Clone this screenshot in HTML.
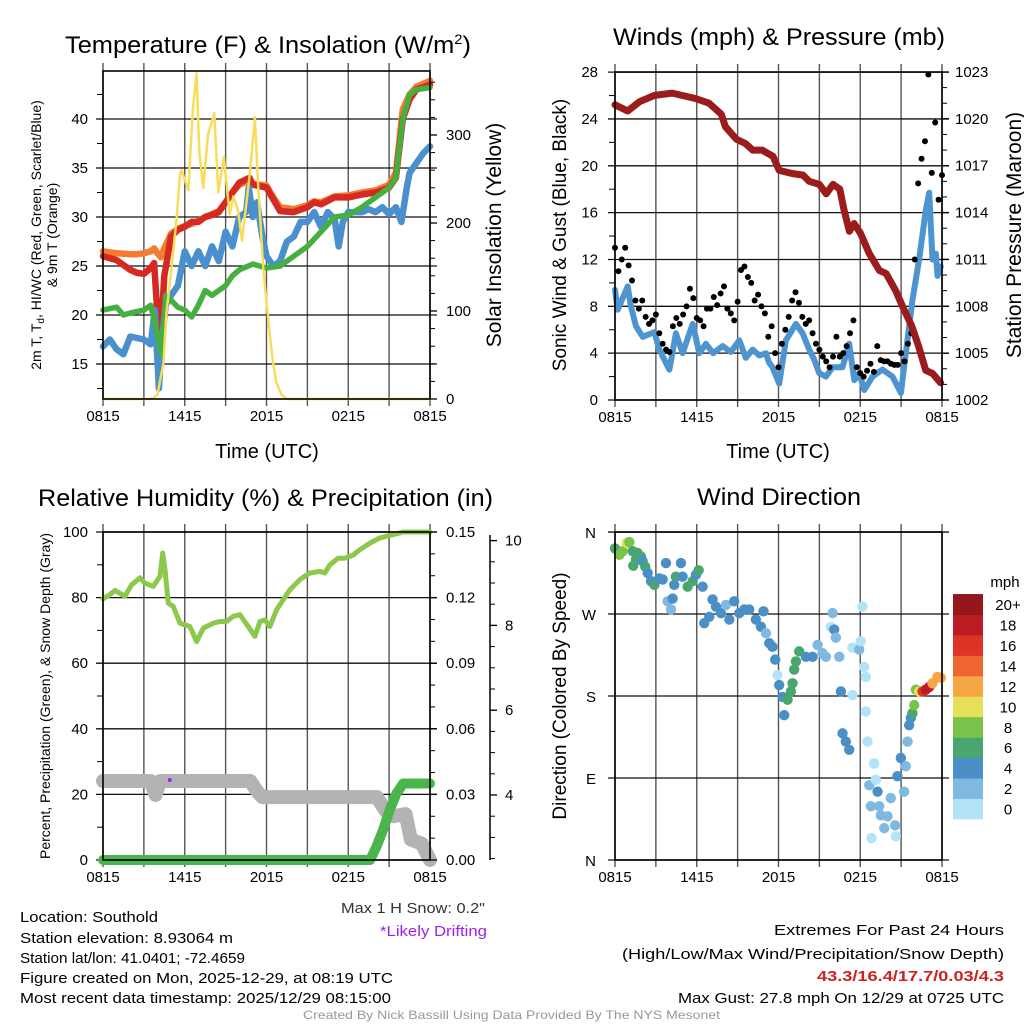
<!DOCTYPE html>
<html><head><meta charset="utf-8"><style>
html,body{margin:0;padding:0;background:#fff;}
svg{display:block;font-family:"Liberation Sans",sans-serif;}
</style></head><body>
<svg id="fig" width="1024" height="1024" viewBox="0 0 1024 1024" xmlns="http://www.w3.org/2000/svg">
<g id="gridlayer"></g>
<g id="datalayer"></g>
<g id="axislayer"></g>
<g fill="#000">
<text x="65" y="53" font-size="24" textLength="406" lengthAdjust="spacingAndGlyphs">Temperature (F) &amp; Insolation (W/m<tspan dy="-9" font-size="14">2</tspan><tspan dy="9">)</tspan></text>
<text x="613" y="45" font-size="24" textLength="332" lengthAdjust="spacingAndGlyphs">Winds (mph) &amp; Pressure (mb)</text>
<text x="38" y="506" font-size="24" textLength="455" lengthAdjust="spacingAndGlyphs">Relative Humidity (%) &amp; Precipitation (in)</text>
<text x="697" y="505" font-size="24" textLength="164" lengthAdjust="spacingAndGlyphs">Wind Direction</text>
<text x="267" y="458" font-size="20" text-anchor="middle">Time (UTC)</text>
<text x="778" y="458" font-size="20" text-anchor="middle">Time (UTC)</text>
<text transform="translate(41,235) rotate(-90)" font-size="14" text-anchor="middle">2m T, T<tspan font-size="10" dy="3">d</tspan><tspan dy="-3">, HI/WC (Red, Green, Scarlet/Blue)</tspan></text>
<text transform="translate(57,235) rotate(-90)" font-size="14" text-anchor="middle">&amp; 9m T (Orange)</text>
<text transform="translate(501,235) rotate(-90)" font-size="21" text-anchor="middle">Solar Insolation (Yellow)</text>
<text transform="translate(566,235) rotate(-90)" font-size="19" text-anchor="middle">Sonic Wind &amp; Gust (Blue, Black)</text>
<text transform="translate(1021,235) rotate(-90)" font-size="21" text-anchor="middle">Station Pressure (Maroon)</text>
<text transform="translate(50,696) rotate(-90)" font-size="14" text-anchor="middle">Percent, Precipitation (Green), &amp; Snow Depth (Gray)</text>
<text transform="translate(566,696) rotate(-90)" font-size="19" text-anchor="middle">Direction (Colored By Speed)</text>
</g>
<g font-size="15" fill="#000">
<text x="20" y="922" textLength="138" lengthAdjust="spacingAndGlyphs">Location: Southold</text>
<text x="20" y="943" textLength="213" lengthAdjust="spacingAndGlyphs">Station elevation: 8.93064 m</text>
<text x="20" y="963" textLength="225" lengthAdjust="spacingAndGlyphs">Station lat/lon: 41.0401; -72.4659</text>
<text x="20" y="983" textLength="373" lengthAdjust="spacingAndGlyphs">Figure created on Mon, 2025-12-29, at 08:19 UTC</text>
<text x="20" y="1003" textLength="371" lengthAdjust="spacingAndGlyphs">Most recent data timestamp: 2025/12/29 08:15:00</text>
<text x="341" y="913" fill="#333" textLength="144" lengthAdjust="spacingAndGlyphs">Max 1 H Snow: 0.2"</text>
<text x="380" y="936" fill="#a020f0" textLength="107" lengthAdjust="spacingAndGlyphs">*Likely Drifting</text>
<text x="774" y="935" textLength="230" lengthAdjust="spacingAndGlyphs">Extremes For Past 24 Hours</text>
<text x="622" y="959" textLength="382" lengthAdjust="spacingAndGlyphs">(High/Low/Max Wind/Precipitation/Snow Depth)</text>
<text x="817" y="981" fill="#cc2222" font-weight="bold" textLength="187" lengthAdjust="spacingAndGlyphs">43.3/16.4/17.7/0.03/4.3</text>
<text x="678" y="1003" textLength="326" lengthAdjust="spacingAndGlyphs">Max Gust: 27.8 mph On 12/29 at 0725 UTC</text>
<text x="303" y="1019" font-size="12" fill="#999" textLength="417" lengthAdjust="spacingAndGlyphs">Created By Nick Bassill Using Data Provided By The NYS Mesonet</text>
</g>
</svg>
<script>
// ---------- data: temperature panel (hours since 0815 UTC) ----------
const tempTimes = [0,1,2,2.5,3,3.5,3.75,4,4.25,4.5,5,5.5,6,6.5,7,7.5,8,8.5,9,9.5,10,10.75,11,12,12.5,13,14,15,15.5,16,17,18,19,20,21,21.5,22,22.5,23,24];
const tempRed = [26,25.6,24.6,24.3,24.2,24.8,25.3,20,18,24,28,28.7,29,29.5,29.5,30,30.2,30.5,31.5,32.5,33.5,34,33.3,33,31.8,30.6,30.5,31,31.5,31.3,32,32,32.3,32.5,33,34,40,42,43,43.5];
const temp9m = [26.5,26.3,26.2,26.2,26.3,26.5,26.8,26.3,25.9,26.8,28.3,28.8,29.1,29.3,29.6,30,30.3,30.6,31.5,32.5,33.3,33.7,33.4,33.2,32,31,30.8,31.2,31.6,31.5,32.1,32.2,32.5,32.7,33.3,34.5,41,42.5,43.3,43.9];
const dewTimes = [0,1,1.5,2,3,3.5,4,4.3,4.6,5,5.5,6,6.5,7,7.5,8,8.5,9,9.5,10,11,12,13,14,15,16,17,18,19,20,21,21.5,22,22.5,23,24];
const dewVals = [20.5,20.8,20,20.2,20.5,21,18,16,22,21.5,20.8,20.5,19.8,21,22.5,22,22.5,23,24,24.6,25.2,24.8,25,26,27,28.5,30,30.2,31,32,33,34,40,42.5,43,43.2];
const wcTimes = [0,0.5,1,1.5,2,3,3.5,3.8,4.1,4.3,4.6,5,5.5,6,6.5,7,7.5,8,8.5,9,9.5,10,10.5,10.7,11,11.3,11.7,12,12.5,13,13.5,14,14.5,15,15.5,16,16.5,17,17.3,17.6,18,19,19.5,20,20.5,21,21.5,21.9,22.3,22.5,23,23.5,24];
const wcVals = [16.8,17.5,16.5,16,17.8,17.5,17,20.5,12.5,17,21,22,23,26.5,25,26.5,25,27,25.5,28.5,27,30,30.5,33,30,31.5,28,26,25,25.5,27.5,28,29.5,29.5,30.5,29,30.5,29.8,27,29.5,30.5,30.5,30.8,30.5,31,30.3,31,29.5,33,34.5,35.5,36.5,37.2];
const solarTimes = [0,3.5,3.7,4,4.3,4.43,4.67,5.04,5.4,5.65,5.77,6.26,6.6,6.87,7.07,7.36,7.7,8.17,8.46,8.87,9.3,9.56,9.9,10.2,10.8,11.15,11.4,11.76,12.0,12.4,12.7,13.1,13.5,24];
const solarVals = [0,0,1,5,30,40,100,150,205,255,260,237,330,370,280,240,300,325,235,275,210,230,215,180,260,320,240,150,110,50,20,5,0,0];
// ---------- data: wind / pressure panel ----------
const presTimes = [0,0.93,1.8,2.9,4.2,5.9,6.9,7.8,8.1,8.9,9.6,10.1,10.8,11.6,12.05,13,13.8,14.25,15,15.5,16,16.5,16.8,17.2,17.55,18,18.65,19.4,19.9,20.6,21.1,21.8,22.3,22.8,23.3,23.9];
const presVals = [1020.9,1020.5,1021.1,1021.5,1021.65,1021.3,1021.0,1020.3,1019.5,1018.7,1018.4,1018.0,1018.0,1017.6,1016.7,1016.5,1016.4,1016.0,1015.8,1015.2,1015.8,1015.5,1014.2,1012.8,1013.3,1012.7,1011.4,1010.3,1010.1,1009.0,1008.0,1006.7,1005.4,1003.9,1003.7,1003.1];
const windTimes = [0,0.2,0.93,1.17,1.54,2.03,2.89,3.25,3.99,4.47,4.96,5.7,6.19,6.67,7.2,7.9,8.5,9.12,9.6,10.1,10.6,11.08,11.3,11.56,12.05,12.54,13.28,13.77,14.25,14.6,14.99,15.48,15.97,16.7,17.19,17.56,17.92,18.29,18.9,19.63,20.37,20.98,21.34,21.83,22.32,22.81,23.06,23.3,23.55,23.67,23.91];
const windVals = [9.4,7.7,9.7,8,6.3,5.4,5.8,4.3,2.6,5.7,4,6.5,4,4.8,4,4.6,4.1,5.1,3.6,4.3,3.8,4,3.2,2.8,1.4,5.1,6.5,5.7,4.3,3.5,2.3,2,2.8,2.8,4.8,1.7,2.3,0.85,2,2.6,2,0.6,4,8.5,12,16.2,17.7,12,12.5,10.6,11.4];
const gustStep = 0.25;
const gustVals = [13,11,12,13,11.5,10.2,8.5,7.8,8.5,7.1,6.5,6.8,7.3,5.7,4.8,4.3,4.1,6.3,7,6.5,7.3,8,9.5,8.7,7,6.8,6.3,7.8,7.8,8.8,8.1,9.1,9.7,7.8,7.4,6.8,8.4,11.1,11.4,10.5,10,8.5,9,8,7.4,5.4,6.3,4,2.8,4.8,6,7.1,8.5,9.2,8.3,7.1,6.5,6.8,5.7,4.8,4.3,3.7,3.3,2.8,3.7,5.4,3.7,4,4.6,5.7,6.8,2.8,2.3,2,2.5,3.1,2.4,4.6,3.4,3.3,3.3,3.1,3,3,4,3.3,4.8,5.7,12,18.5,20.6,22.1,27.8,19.4,23.7,17.1,19.2];
// ---------- data: humidity / precip / snow panel ----------
const rhTimes = [0,0.51,0.88,1.61,2.1,2.71,3.08,3.69,3.94,4.18,4.38,4.55,4.79,5.16,5.65,6.38,6.87,7.36,8.09,8.58,9.07,9.56,10.05,10.66,11.15,11.52,11.88,12.25,12.74,13.23,13.72,14.45,15.18,15.92,16.28,16.65,17.26,17.75,18.36,18.85,19.58,20.32,21.3,22.03,23.99];
const rhVals = [79.6,80.9,82.2,80.4,83.9,86,84.4,83.4,85,86.5,93.6,88.5,78.3,77.3,72.2,71.2,66.6,70.7,72.2,72.7,72.7,74.3,74.8,71.2,68.2,72.7,73.2,71.2,76.3,79.4,82.4,85.5,87.5,88,87.5,90,92,92,93,94.6,96.6,98.2,99.2,100,100];
const precipTimes = [0,19.6,20.07,20.56,21.05,21.54,22.03,24];
const precipVals = [0,0,0.0061,0.0138,0.023,0.0305,0.035,0.035];
const snowTimes = [0,3.5,3.85,4.2,10.8,11.4,11.7,20.1,20.8,21.3,22.2,22.6,23.4,24];
const snowVals = [4.33,4.33,4.0,4.33,4.33,4.05,3.95,3.95,3.6,3.5,3.55,2.95,2.85,2.47];
// ---------- data: wind direction panel ----------
const dirTimes = [0,0.32,0.56,0.86,1.05,1.3,1.66,1.91,1.54,1.34,2.03,2.22,2.4,2.64,2.89,3.25,3.5,3.74,3.86,4.11,4.23,4.47,4.35,4.84,4.96,5.33,5.7,5.94,6.14,6.43,6.55,6.92,7.16,7.41,7.78,8.14,8.39,8.75,9.12,9.49,9.85,10.34,10.71,10.9,11.08,11.32,11.56,11.76,11.93,12.05,12.3,12.42,12.67,12.91,13.03,13.15,13.28,13.52,14.01,14.5,14.87,15.23,15.48,15.84,15.97,16.09,16.21,16.46,16.58,16.7,16.94,17.19,17.43,17.43,17.92,18.04,18.17,18.29,18.41,18.41,18.53,18.66,18.78,18.83,19.02,19.14,19.27,19.39,19.51,19.76,20.0,20.24,20.56,20.61,20.73,20.98,21.22,21.34,21.47,21.59,21.71,21.83,21.96,22.08,22.32,22.57,22.81,23.06,23.3,23.67,23.91];
const dirVals = [342,335,339,348,349,339,337,333,330,323,328,322,315,306,302,309,308,326,284,275,287,311,302,326,311,300,306,313,318,300,260,267,286,278,271,280,264,284,271,275,275,264,256,273,249,238,234,220,203,192,179,159,176,185,194,209,218,229,223,223,236,227,223,256,271,253,244,223,185,139,130,121,181,233,231,240,278,212,201,163,130,82,59,24,106,88,75,59,49,35,48,68,38,26,92,112,75,103,130,148,156,161,170,187,185,185,187,190,194,201,200];
const dirSpeeds = [7,8,8,10,9,7,6,6,6,6,5,6,5,4,6,4,4,4,2,2,4,6,4,4,4,6,6,4,6,4,4,4,4,4,4,2,4,4,4,4,4,4,4,4,2,4,4,4,1,4,4,4,6,6,6,6,6,6,4,4,2,2,2,1,2,4,2,2,4,4,4,4,1,1,2,1,1,1,1,1,1,2,2,1,1,1,4,2,2,2,2,2,2,1,4,4,2,2,2,4,4,6,8,8,10,16,18,18,12,12,12];
const speedColors = ["#b4e2f7","#7fb9e1","#4a8fc5","#4aa66f","#7bc24b","#e6df5a","#f6a644","#ee6530","#dd3427","#bb1d23","#96171b"];
const speedLabels = ["0","2","4","6","8","10","12","14","16","18","20+"];
// ---------- axis tick data ----------
const timeTickLabels = ["0815","1415","2015","0215","0815"];
const tempTicks = [15,20,25,30,35,40];
const solarTicks = [0,100,200,300];
const mphTicks = [0,4,8,12,16,20,24,28];
const presTicks = [1002,1005,1008,1011,1014,1017,1020,1023];
const pctTicks = [0,20,40,60,80,100];
const inTickLabels = ["0.00","0.03","0.06","0.09","0.12","0.15"];
const snowTicks = [4,6,8,10];
const dirTickLabels = ["N","E","S","W","N"];

const NS = "http://www.w3.org/2000/svg";
const G = document.getElementById('gridlayer'), D = document.getElementById('datalayer'), A = document.getElementById('axislayer');
function mk(tag, attrs, parent){const e=document.createElementNS(NS,tag);for(const k in attrs)e.setAttribute(k,attrs[k]);parent.appendChild(e);return e;}
function ln(p,x1,y1,x2,y2,c,w,name){const e=mk('line',{x1,y1,x2,y2,stroke:c,'stroke-width':w},p);


return e;}
function tx(p,x,y,s,size,anchor,name,fill){const e=mk('text',{x,y,'font-size':size,'text-anchor':anchor,fill:fill||'#000'},p);e.textContent=s;


return e;}
function poly(p,xs,ys,c,w,name){const pts=xs.map((x,i)=>x.toFixed(1)+','+ys[i].toFixed(1)).join(' ');
const e=mk('polyline',{points:pts,fill:'none',stroke:c,'stroke-width':w,'stroke-linejoin':'round','stroke-linecap':'round'},p);


return e;}

// axis functions
const xA = h => 103 + h*327/24;
const xB = h => 615 + h*327/24;
const yT = t => 119 + (40-t)*9.8;
const yW = w => 399 - w*0.88;
const yM = m => 400 - m*11.71;
const yP = p => 400 - (p-1002)*15.62;
const yPct = v => 860 - v*3.28;
const yIn = i => 860 - i/0.15*328;
const ySnow = s => 795 - (s-4)*42.4;
const yD = d => 860 - d*0.911;

function panelFrame(xf, top, bottom, hLines, name){
  for(let h=0;h<=24;h+=3){const x=xf(h);ln(G,x,top-8,x,bottom+7,'#555',1.4,name+'-vgrid');}
  hLines.forEach(y=>ln(G,xf(0)-7,y,xf(24)+7,y,'#111',1.3,name+'-hgrid'));
  const r=mk('rect',{x:xf(0),y:top,width:xf(24)-xf(0),height:bottom-top,fill:'none',stroke:'#000','stroke-width':1.6},A);
  
  
  timeTickLabels.forEach((s,i)=>tx(A,xf(i*6),bottom+22,s,15,'middle',name+'-x-tick-label'));
}

// ----- temperature panel -----
panelFrame(xA,71,399,tempTicks.map(yT),'temp');
tempTicks.forEach(t=>tx(A,88,yT(t)+5,String(t),15,'end','temp-y-tick-label'));
for(let t=12.5;t<45;t+=2.5){ln(A,97,yT(t),103,yT(t),'#000',1,'temp-minor-tick');}
solarTicks.forEach(w=>{ln(A,430,yW(w),437,yW(w),'#000',1.3,'solar-major-tick');tx(A,446,yW(w)+5,String(w),15,'start','solar-y-tick-label');});
for(let w=20;w<=370;w+=20){ln(A,430,yW(w),435,yW(w),'#000',1,'solar-minor-tick');}
poly(D,tempTimes.map(xA),temp9m.map(yT),'#f47b30',6.5,'temp-9m-line');
poly(D,tempTimes.map(xA),tempRed.map(yT),'#d42a22',6.5,'temp-2m-line');
poly(D,wcTimes.map(xA),wcVals.map(yT),'#4a90cc',6.5,'windchill-line');
poly(D,dewTimes.map(xA),dewVals.map(yT),'#45b040',5.5,'dewpoint-line');
poly(D,solarTimes.map(xA),solarVals.map(yW),'#f8dc5a',2.5,'insolation-line');

// ----- wind panel -----
panelFrame(xB,72,400,mphTicks.map(yM),'wind');
mphTicks.forEach(m=>tx(A,598,yM(m)+5,String(m),15,'end','wind-y-tick-label'));
for(let m=2;m<28;m+=4){ln(A,609,yM(m),615,yM(m),'#000',1,'wind-minor-tick');}
presTicks.forEach(p=>{ln(A,942,yP(p),949,yP(p),'#000',1.3,'pressure-major-tick');tx(A,955,yP(p)+5,String(p),15,'start','pressure-y-tick-label');});
for(let p=1003;p<1023;p++){ln(A,942,yP(p),947,yP(p),'#000',1,'pressure-minor-tick');}
poly(D,windTimes.map(xB),windVals.map(yM),'#4e95cf',6,'wind-speed-line');
gustVals.forEach((g,i)=>{const c=mk('circle',{cx:xB(i*gustStep),cy:yM(g),r:3,fill:'#000'},D);

});
poly(D,presTimes.map(xB),presVals.map(yP),'#9b1c1c',7,'pressure-line');

// ----- humidity panel -----
panelFrame(xA,532,860,pctTicks.map(yPct),'rh');
pctTicks.forEach(v=>tx(A,88,yPct(v)+5,String(v),15,'end','rh-y-tick-label'));
for(let v=10;v<100;v+=20){ln(A,97,yPct(v),103,yPct(v),'#000',1,'rh-minor-tick');}
inTickLabels.forEach((s,i)=>{const y=yIn(parseFloat(s));ln(A,430,y,437,y,'#000',1.3,'precip-major-tick');tx(A,446,y+5,s,15,'start','precip-y-tick-label');});
for(let i=0.01;i<0.15;i+=0.01){ln(A,430,yIn(i),435,yIn(i),'#000',1,'precip-minor-tick');}
ln(A,490,535,490,860,'#000',1.5,'snow-axis-line');
snowTicks.forEach(s=>{ln(A,490,ySnow(s),497,ySnow(s),'#000',1.3,'snow-major-tick');tx(A,505,ySnow(s)+5,String(s),15,'start','snow-y-tick-label');});
for(let s=2.5;s<=10.1;s+=0.5){ln(A,490,ySnow(s),495,ySnow(s),'#000',1,'snow-minor-tick');}
poly(D,rhTimes.map(xA),rhVals.map(yPct),'#8cc84b',5,'rh-line');
poly(D,snowTimes.map(xA),snowVals.map(ySnow),'#b3b3b3',14,'snow-depth-line');
poly(D,precipTimes.map(xA),precipVals.map(yIn),'#4ab54a',10,'precip-line');
{const c=mk('circle',{cx:xA(4.9),cy:780,r:2,fill:'#a020f0'},D);

}

// ----- direction panel -----
panelFrame(xB,532,860,[0,90,180,270,360].map(yD),'dir');
dirTickLabels.forEach((s,i)=>tx(A,596,yD(i*90)+6,s,15,'end','dir-y-tick-label'));
dirTimes.forEach((h,i)=>{const b=Math.min(10,Math.floor(dirSpeeds[i]/2));
const c=mk('circle',{cx:xB(h),cy:yD(dirVals[i]),r:5.2,fill:speedColors[b]},D);

});
tx(A,1005,587,'mph',15,'middle','colorbar-title');
speedColors.forEach((c,i)=>{const y=819-(i+1)*20.45;
const r=mk('rect',{x:953,y:y,width:30,height:20.9,fill:c},A);


tx(A,1008,y+16,speedLabels[i],15,'middle','colorbar-label');});
</script>
</body></html>
